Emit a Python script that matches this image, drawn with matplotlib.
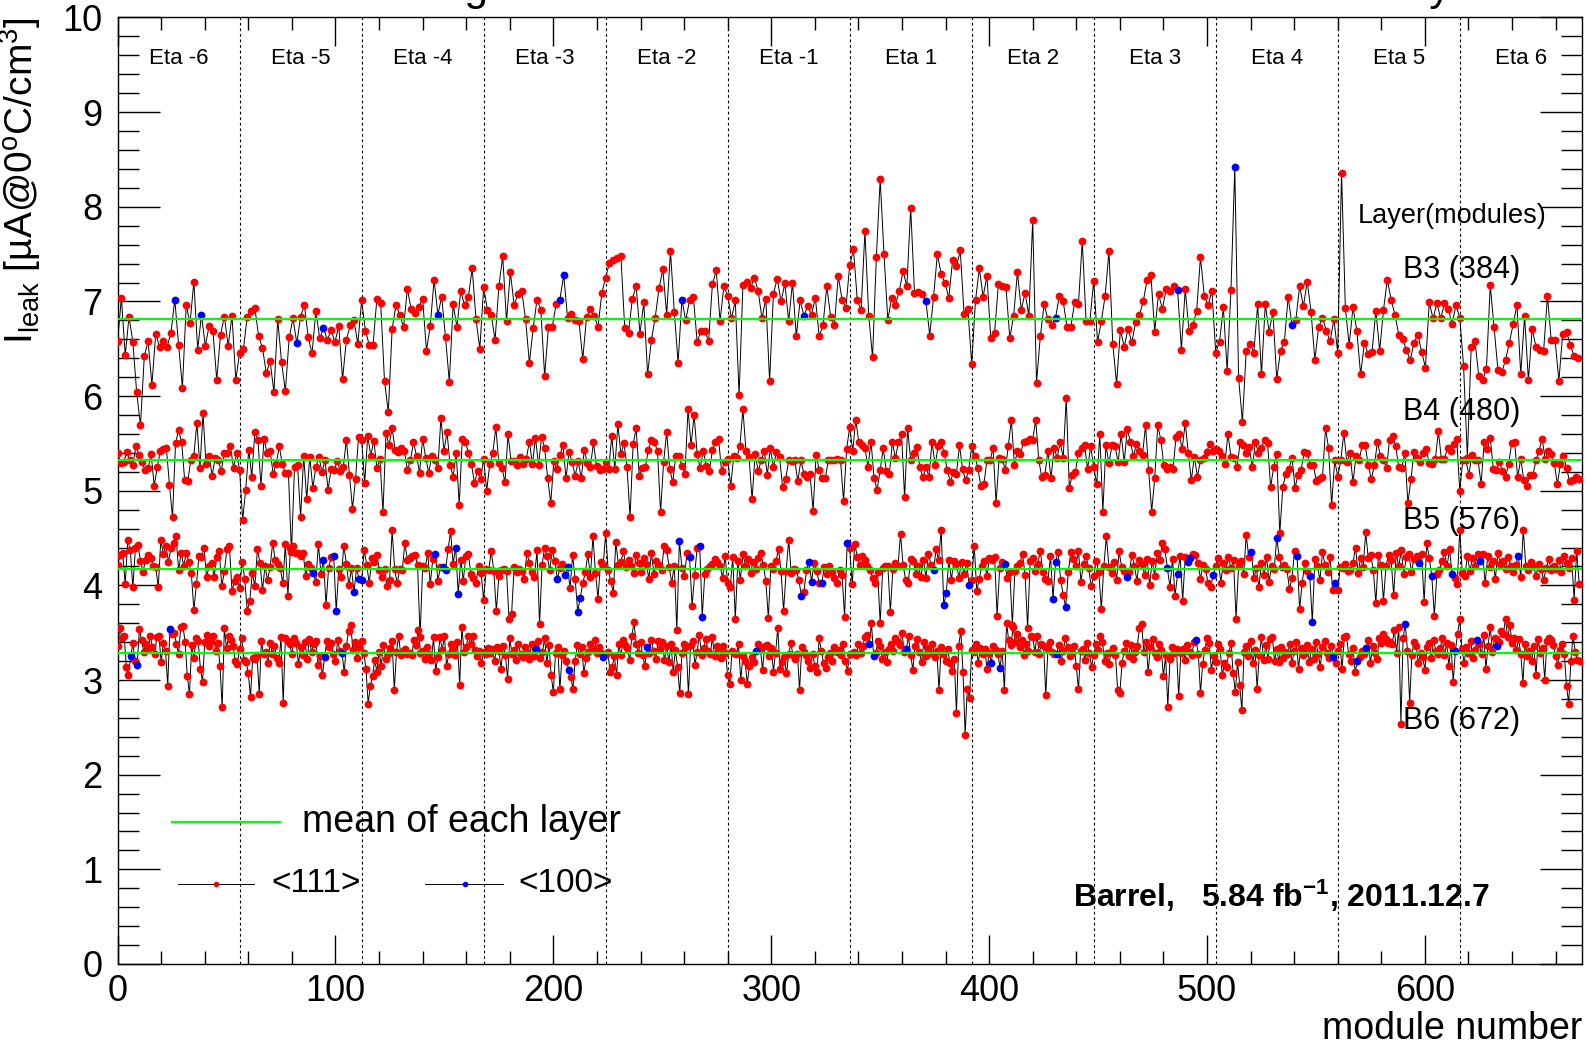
import numpy as np
import matplotlib.pyplot as plt
from matplotlib.ticker import MultipleLocator

plt.rcParams['font.family'] = ['Liberation Sans', 'DejaVu Sans']
plt.rcParams['mathtext.fontset'] = 'custom'
plt.rcParams['mathtext.rm'] = 'Liberation Sans'
plt.rcParams['mathtext.it'] = 'Liberation Sans:italic'
plt.rcParams['mathtext.bf'] = 'Liberation Sans:bold'

# leakage current per module [uA @ 0C / cm3], ordered by module number
b3 = [6.58, 7.04, 6.43, 6.84, 6.57, 6.04, 5.69, 6.42, 6.58, 6.12,
      6.66, 6.52, 6.58, 6.52, 6.67, 7.02, 6.54, 6.09, 6.96, 6.77,
      7.21, 6.49, 6.86, 6.53, 6.74, 6.69, 6.17, 6.65, 6.84, 6.53,
      6.85, 6.17, 6.46, 6.50, 6.84, 6.90, 6.93, 6.63, 6.51, 6.24,
      6.37, 6.04, 6.81, 6.36, 6.05, 6.62, 6.82, 6.56, 6.84, 6.96,
      6.62, 6.45, 6.90, 6.61, 6.72, 6.59, 6.70, 6.57, 6.74, 6.18,
      6.59, 6.75, 6.80, 6.55, 7.01, 6.69, 6.54, 6.54, 7.03, 6.98,
      6.16, 5.83, 6.71, 6.96, 6.86, 6.73, 7.13, 6.92, 6.88, 6.94,
      7.03, 6.48, 6.74, 7.23, 6.86, 7.05, 6.62, 6.15, 6.97, 6.73,
      7.11, 6.96, 7.05, 7.35, 6.81, 6.50, 7.15, 6.91, 6.86, 6.59,
      7.16, 7.48, 6.79, 7.31, 6.96, 7.08, 7.11, 6.81, 6.35, 6.72,
      7.02, 6.91, 6.21, 6.73, 6.73, 6.97, 7.02, 7.28, 6.83, 6.87,
      6.80, 6.79, 6.39, 6.84, 6.92, 6.85, 6.73, 7.09, 7.25, 7.41,
      7.44, 7.46, 7.48, 6.72, 6.67, 7.03, 7.16, 6.66, 6.99, 6.23,
      6.59, 6.83, 7.14, 7.34, 6.86, 7.53, 6.89, 6.35, 7.02, 6.80,
      7.01, 7.05, 6.57, 6.69, 6.69, 6.58, 7.18, 7.33, 6.79, 7.16,
      7.06, 6.82, 7.01, 6.01, 7.17, 7.21, 7.14, 7.25, 7.11, 6.82,
      7.03, 6.16, 7.08, 7.24, 7.00, 7.19, 6.79, 7.20, 6.63, 7.01,
      6.85, 6.95, 6.86, 7.04, 6.63, 6.75, 7.16, 6.84, 6.75, 7.27,
      7.02, 6.93, 7.38, 7.55, 7.01, 6.91, 7.74, 6.85, 6.41, 7.47,
      8.29, 7.50, 6.80, 7.04, 6.96, 7.11, 7.32, 7.16, 7.99, 7.09,
      7.10, 7.08, 7.00, 6.64, 7.05, 7.50, 7.29, 7.19, 7.04, 7.44,
      7.37, 7.54, 6.87, 6.92, 6.34, 7.01, 7.35, 7.05, 7.27, 6.61,
      6.67, 7.18, 7.16, 7.15, 6.61, 6.85, 7.31, 6.91, 7.09, 6.85,
      7.86, 6.14, 6.63, 6.97, 6.81, 6.75, 6.83, 7.06, 7.00, 6.73,
      6.73, 6.99, 6.97, 7.64, 6.79, 6.79, 7.22, 6.57, 6.79, 7.06,
      7.53, 6.55, 6.13, 6.70, 6.52, 6.71, 6.57, 6.78, 6.86, 7.00,
      7.23, 7.28, 6.68, 7.08, 6.92, 7.13, 7.11, 7.16, 7.12, 6.49,
      7.13, 6.69, 6.75, 6.90, 7.47, 7.06, 6.96, 7.11, 6.46, 6.57,
      6.94, 6.27, 7.12, 8.42, 6.19, 5.73, 6.48, 6.55, 6.46, 6.97,
      6.23, 6.97, 6.68, 6.89, 6.18, 6.48, 6.57, 7.05, 6.75, 6.80,
      7.16, 6.95, 7.21, 6.89, 6.38, 6.73, 6.83, 6.69, 6.58, 6.81,
      6.46, 8.36, 6.93, 6.54, 6.94, 6.69, 6.23, 6.56, 6.44, 6.47,
      6.90, 6.48, 6.91, 7.23, 7.02, 6.86, 6.65, 6.60, 6.49, 6.38,
      6.56, 6.65, 6.47, 6.30, 6.99, 6.82, 6.98, 6.82, 6.98, 6.92,
      6.76, 6.96, 6.83, 6.32, 5.35, 6.52, 6.58, 6.21, 6.17, 6.29,
      7.17, 6.73, 6.28, 6.25, 6.38, 6.56, 6.76, 6.96, 6.23, 6.85,
      6.17, 6.71, 6.52, 6.49, 6.48, 7.06, 6.59, 6.59, 6.16, 6.66,
      6.68, 6.54, 6.42, 6.40]

b4 = [5.40, 5.29, 5.30, 5.41, 5.32, 5.27, 5.47, 5.38, 5.30, 5.22,
      5.24, 5.39, 5.05, 5.25, 5.42, 5.44, 5.45, 5.06, 4.72, 5.50,
      5.64, 5.51, 5.11, 5.10, 5.32, 5.37, 5.72, 5.24, 5.82, 5.28,
      5.37, 5.16, 5.35, 5.32, 5.21, 5.40, 5.40, 5.47, 5.24, 5.40,
      5.22, 4.69, 5.01, 5.43, 5.15, 5.62, 5.54, 5.05, 5.55, 5.40,
      5.42, 5.18, 5.28, 5.47, 5.28, 5.19, 5.19, 4.35, 5.25, 5.27,
      4.72, 5.37, 4.91, 5.36, 5.03, 5.25, 5.36, 5.20, 5.32, 5.01,
      5.23, 5.22, 5.31, 5.21, 5.25, 5.54, 5.17, 4.81, 5.12, 5.57,
      5.54, 5.08, 5.58, 5.37, 5.53, 5.24, 5.34, 4.77, 5.61, 5.48,
      5.66, 5.43, 5.41, 5.45, 5.42, 5.22, 5.32, 5.51, 5.37, 5.19,
      5.55, 5.35, 5.19, 5.37, 5.32, 5.24, 5.77, 5.42, 5.62, 5.27,
      5.15, 5.40, 4.85, 5.55, 5.52, 5.40, 5.28, 5.08, 5.21, 5.12,
      5.34, 5.00, 5.28, 5.40, 5.67, 5.29, 5.24, 5.09, 5.60, 5.31,
      5.31, 5.27, 5.36, 5.28, 5.34, 5.52, 5.28, 5.56, 5.27, 5.57,
      5.45, 5.13, 4.87, 5.31, 5.23, 5.38, 5.48, 5.13, 5.41, 5.30,
      5.16, 5.31, 5.13, 5.43, 5.29, 5.25, 5.51, 5.26, 5.22, 5.23,
      5.30,
      5.23, 5.58, 5.23, 5.70, 5.39, 5.50, 5.25, 4.72, 5.49, 5.66,
      5.16, 5.24, 5.25, 5.43, 5.54, 5.51, 5.42, 4.77, 5.30, 5.62,
      5.23, 5.09, 5.37, 5.37, 5.26, 5.18, 5.86, 5.48, 5.80, 5.39,
      5.24, 5.42, 5.26, 5.21, 5.43, 5.52, 5.55, 5.21, 5.30, 5.33,
      5.05, 5.37, 5.35, 5.47, 5.86, 5.42, 5.36, 4.91, 5.39, 5.21,
      5.32, 5.42, 5.17, 5.45, 5.25, 5.41, 5.36, 5.04, 5.12, 5.32,
      5.31, 5.32, 5.10, 5.32, 5.18, 5.15, 5.18, 4.79, 5.38, 5.22,
      5.13, 5.13, 5.32, 5.32, 5.32, 5.33, 5.32, 4.89, 5.44, 5.67,
      5.42, 5.75, 5.51, 5.48, 5.45, 5.25, 5.52, 5.13, 5.01, 5.22,
      5.45, 5.21, 5.18, 5.51, 5.35, 5.51, 5.60, 4.93, 5.66, 5.32,
      5.40, 5.46, 5.25, 5.14, 5.25, 5.15, 5.52, 5.27, 5.47, 5.51,
      5.40, 5.22, 5.09, 5.20, 5.18, 5.48, 5.23, 5.11, 5.22, 5.47,
      5.37, 5.24, 5.05, 5.07, 5.32, 5.32, 5.45, 4.87, 5.35, 5.34,
      5.22, 5.47, 5.75, 5.27, 5.42, 5.39, 5.51, 5.53, 5.55, 5.54,
      5.75, 5.32, 5.14, 5.17, 5.42, 5.13, 5.45, 5.35, 5.51, 5.35,
      5.98, 5.03, 5.17, 5.20, 5.40, 5.45, 5.48, 5.23, 5.47, 5.25,
      5.07,
      5.60, 4.78, 5.48, 5.29, 5.48, 5.47, 5.30, 5.60, 5.30, 5.65,
      5.52, 5.37, 5.49, 5.42, 5.38, 5.69, 5.22, 4.78, 5.13, 5.69,
      5.54, 5.27, 5.23, 5.25, 5.23, 5.57, 5.60, 5.44, 5.72, 5.40,
      5.11, 5.36, 5.15, 5.32, 5.35, 5.41, 5.49, 5.42, 5.44, 5.42,
      5.37, 5.28, 5.60, 5.36, 5.35, 5.25, 5.51, 5.48, 5.40, 5.46,
      5.25, 5.51, 5.40, 5.45, 5.54, 5.50, 5.04, 5.25, 5.39, 4.55,
      5.04, 5.18, 5.23, 5.35, 5.03, 5.17, 5.22, 5.41, 5.40, 5.27,
      5.27, 5.10, 5.12, 5.14, 5.66, 5.45, 4.85, 5.32, 5.15, 5.32,
      5.61, 5.30, 5.40, 5.09, 5.37, 5.32, 5.48, 5.48, 5.27, 5.12,
      5.27, 5.51, 5.37, 5.32, 5.24, 5.54, 5.58, 5.47, 5.25, 5.24,
      5.40, 4.87, 5.12, 5.41, 5.35, 5.30, 5.40, 5.44, 5.29, 5.28,
      5.33, 5.63, 5.33, 5.34, 5.45, 5.42, 5.49, 5.55, 5.00, 5.32,
      5.32, 5.17, 5.38, 5.32, 5.32, 5.07, 5.51, 5.44, 5.56, 5.23,
      5.22, 5.30, 5.21, 5.14, 5.28, 5.50, 5.51, 5.14, 5.34, 5.11,
      5.05, 5.17, 5.17, 5.32, 5.42, 5.55, 5.34, 5.42, 5.39, 5.29,
      5.07, 5.28, 5.37, 5.24, 5.10, 5.11, 5.14, 5.12]

b5 = [4.22, 4.32, 4.34, 4.01, 4.48, 4.37, 3.98, 4.39, 4.43, 4.26, 4.14, 4.27,
      4.32, 4.29, 4.21, 4.19, 3.98, 4.48, 4.33, 4.42, 4.25, 4.39, 4.45, 4.52,
      4.16, 4.34, 4.21, 4.34, 4.25, 4.13, 3.74, 4.01, 4.31, 4.30, 4.39, 4.09,
      4.20, 4.24, 4.09, 4.30, 4.36, 3.99, 4.15, 4.38, 4.42, 3.94, 4.05, 4.09,
      3.97, 4.25, 4.07, 3.73, 3.84, 4.13, 3.99, 4.38, 4.24, 3.95, 4.20, 4.06,
      4.19, 4.45, 4.27, 4.23, 4.18, 4.02, 4.44, 3.89, 4.39, 4.42, 4.34, 4.34,
      4.31, 4.34, 4.10, 4.23, 4.18, 4.13, 4.04, 4.44, 4.12, 4.27, 3.79, 4.18,
      4.30, 4.31, 3.73, 4.17, 4.09, 4.42, 4.23, 4.00, 4.18, 3.93, 4.18, 4.07,
      4.06, 4.37, 4.22, 4.02, 4.29, 4.25, 4.32, 4.16, 4.09, 4.17, 3.99, 4.06,
      4.58, 4.17, 4.02, 4.17, 4.16, 4.45, 4.27, 4.29, 4.31, 4.32, 4.22, 3.45,
      4.20, 4.18, 4.34, 4.01, 4.28, 4.33, 4.05, 4.19, 4.19, 4.16, 4.38, 4.57,
      4.23, 4.40, 3.91, 4.27, 4.05, 4.31, 4.33, 4.12, 4.08, 4.03, 4.20, 4.13,
      3.85, 4.17, 4.16, 4.36, 4.15, 3.73, 4.10, 4.16, 4.17, 4.15, 3.64, 3.70,
      4.19, 4.14, 4.17, 4.15, 4.07, 4.34, 4.24, 4.14, 4.09, 4.37, 3.59, 4.22,
      4.40, 4.31, 4.16, 4.37, 4.26, 4.07, 4.18, 4.23, 4.11, 4.19, 3.97, 4.32,
      4.07, 3.72, 3.87, 4.02, 4.14, 4.33, 4.09, 4.52, 4.13, 3.86, 4.25, 4.20,
      4.55, 4.16, 4.05, 3.92, 4.46, 4.22, 4.25, 4.36, 4.19, 4.27, 4.20, 4.13,
      4.32, 4.24, 4.14, 4.29, 4.23, 4.07, 4.34, 4.12, 4.26, 4.22, 4.16, 4.42,
      4.37, 4.19, 4.03, 4.21, 3.53, 4.47, 4.18, 4.10, 4.34, 4.30, 3.78, 4.11,
      4.40, 4.42, 3.67, 4.12, 4.17, 4.20, 4.23, 4.28, 4.25, 4.21, 4.08, 4.31,
      4.03, 3.98, 4.30, 3.64, 4.26, 4.06, 4.33, 4.21, 4.28, 4.13, 4.25, 4.17,
      4.29, 4.34, 4.22, 4.05, 3.66, 4.20, 4.17, 4.26, 4.38, 4.15, 3.73, 4.15,
      4.48, 4.13, 4.17, 4.16, 4.06, 3.89, 3.93, 4.16, 4.25, 4.04, 4.24, 4.15,
      4.03, 4.02, 4.19, 4.12, 4.21, 4.14, 4.08, 4.03, 4.16, 4.11, 3.67, 4.45,
      4.39, 4.01, 4.44, 4.30, 4.22, 4.31, 4.27, 4.20, 4.16, 4.08, 4.03, 4.14,
      3.60, 4.18, 4.20, 4.21, 3.72, 4.17, 4.24, 4.20, 4.54, 4.22, 4.06, 4.02,
      4.28, 4.26, 4.12, 4.21, 4.09, 4.27, 4.08, 4.33, 4.22, 4.16, 4.38, 4.27,
      4.59, 3.79, 3.92, 4.27, 4.06, 4.26, 4.23, 4.08, 4.25, 4.12, 4.24, 4.00,
      4.06, 4.42, 3.94, 4.07, 4.21, 4.26, 4.10, 4.29, 4.27, 4.30, 3.68, 4.18,
      4.25, 4.23, 4.08, 4.14, 3.58, 4.15, 4.20, 4.24, 4.33, 4.11, 3.55, 4.26,
      4.29, 4.15, 4.23, 4.36, 4.14, 4.07, 4.05, 4.31, 3.86, 4.25, 4.35, 4.06,
      3.90, 3.77, 4.14, 4.35, 4.28, 4.21, 4.36, 4.04, 4.23, 4.31, 4.18, 3.99,
      4.10, 4.26, 4.14, 3.75, 4.21, 4.52, 4.19, 4.13, 4.25, 4.06, 4.36, 4.19,
      4.15, 4.09, 4.14, 4.32, 4.21, 4.05, 4.27, 4.23, 4.11, 4.28, 4.00, 4.26,
      4.10, 4.34, 4.27, 4.45, 4.38, 4.18, 3.98, 4.28, 3.89, 4.12, 4.31, 3.84,
      4.30, 4.25, 4.29, 4.33, 4.32, 4.24, 4.07, 4.22, 4.17, 4.02, 3.98, 4.11,
      4.20, 4.29, 4.03, 4.24, 4.16, 4.30, 4.18, 4.27, 3.65, 4.21, 4.26, 4.12,
      4.53, 4.30, 4.35, 4.08, 4.18, 3.98, 4.24, 4.11, 4.30, 4.04, 4.20, 4.17,
      4.50, 4.30, 4.19, 4.22, 4.17, 3.96, 4.08, 4.36, 4.31, 3.75, 4.02, 4.24,
      4.15, 4.10, 3.61, 4.28, 4.20, 4.06, 4.35, 4.22, 4.14, 4.30, 3.95, 4.02,
      3.95, 4.19, 4.18, 4.23, 4.15, 4.16, 4.24, 4.40, 4.13, 4.29, 4.19, 4.56,
      4.29, 4.32, 4.16, 3.81, 4.32, 4.22, 3.84, 4.21, 4.32, 4.27, 3.90, 4.34,
      4.20, 4.37, 4.12, 4.30, 4.33, 4.14, 4.28, 4.31, 4.24, 4.33, 3.82, 4.45,
      4.29, 4.10, 3.68, 4.12, 4.16, 4.26, 4.35, 4.20, 4.38, 4.12, 4.08, 4.01,
      4.59, 4.13, 4.10, 4.31, 4.15, 4.29, 4.21, 4.33, 4.26, 4.33, 4.02, 4.31,
      4.19, 4.26, 4.07, 4.34, 4.23, 4.26, 4.17, 4.30, 4.21, 4.14, 4.22, 4.31,
      4.09, 4.59, 4.20, 4.16, 4.25, 4.21, 4.10, 4.23, 4.17, 4.06, 4.18, 4.28,
      4.16, 4.21, 4.17, 4.27, 4.14, 4.31, 4.24, 4.18, 4.29, 3.85, 4.36, 4.01]

b6 = [3.36, 3.55, 3.44, 3.47, 3.14, 3.05, 3.25, 3.39, 3.20, 3.16, 3.54, 3.42, 3.30, 3.38,
      3.33, 3.46, 3.35, 3.27, 3.45, 3.46, 3.19, 3.39, 3.31, 2.94, 3.54, 3.49, 3.50, 3.38,
      3.28, 3.56, 3.57, 3.40, 3.04, 2.85, 3.37, 3.23, 3.44, 3.41, 3.12, 2.98, 3.40, 3.48,
      3.36, 3.41, 3.47, 3.31, 3.39, 3.15, 2.71, 3.55, 3.34, 3.46, 3.42, 3.36, 3.20, 3.17,
      3.33, 3.44, 3.21, 3.19, 3.07, 2.82, 3.23, 3.22, 3.26, 2.85, 3.41, 3.27, 3.30, 3.18,
      3.39, 3.28, 3.36, 3.23, 3.18, 3.45, 2.76, 3.44, 3.41, 3.38, 3.27, 3.44, 3.39, 3.17,
      3.35, 3.26, 3.40, 3.22, 3.43, 3.30, 3.38, 3.41, 3.16, 3.25, 3.05, 3.24, 3.41, 3.35,
      3.39, 3.27, 3.20, 3.42, 3.31, 3.29, 3.08, 3.36, 3.52, 3.58, 3.32, 3.40, 3.23, 3.35,
      3.41, 3.29, 3.12, 2.75, 2.94, 3.04, 3.21, 3.09, 3.30, 3.15, 3.37, 3.22, 3.28, 3.34,
      3.41, 2.89, 3.30, 3.46, 3.26, 3.31, 3.33, 3.28, 3.29, 3.26, 3.42, 3.37, 3.53, 3.29,
      3.31, 3.22, 3.35, 3.28, 3.21, 3.45, 3.10, 3.24, 3.45, 3.32, 3.46, 3.15, 3.27, 3.38,
      3.33, 3.26, 3.40, 2.95, 3.56, 3.30, 3.35, 3.47, 3.38, 3.46, 3.32, 3.25, 3.31, 3.18,
      3.30, 3.27, 3.34, 3.29, 3.33, 3.20, 3.35, 3.31, 3.12, 3.36, 3.26, 3.01, 3.44, 3.28,
      3.32, 3.21, 3.38, 3.27, 3.24, 3.35, 3.30, 3.22, 3.38, 3.25, 3.33, 3.41, 3.23, 3.30,
      3.44, 3.18, 3.37, 3.05, 2.87, 3.29, 3.35, 2.90, 3.26, 3.31, 3.20, 3.11, 3.03, 2.91,
      3.20, 3.37, 3.28, 3.35, 3.07, 3.23, 3.30, 3.38, 3.33, 3.42, 3.29, 3.35, 3.29, 3.24,
      3.27, 3.30, 3.09, 3.14, 3.25, 3.05, 3.38, 3.26, 3.42, 3.37, 3.34, 3.21, 3.46, 3.61,
      3.38, 3.29, 3.40, 3.26, 3.15, 3.35, 3.29, 3.42, 3.31, 3.22, 3.41, 3.33, 3.40, 3.21,
      3.36, 3.19, 3.38, 3.09, 3.32, 3.14, 2.86, 3.29, 3.38, 3.35, 2.85, 3.37, 3.41, 3.16,
      3.30, 3.48, 3.26, 3.34, 3.43, 3.31, 3.27, 3.45, 3.25, 3.36, 3.32, 3.23, 3.36, 3.29,
      3.05, 2.96, 3.31, 3.29, 3.27, 3.38, 3.00, 3.25, 3.20, 2.96, 3.15, 3.24, 3.19, 3.31,
      3.38, 3.33, 3.11, 3.36, 3.37, 3.25, 3.34, 3.09, 3.29, 3.55, 3.12, 3.19, 3.24, 3.07,
      3.27, 3.39, 3.26, 3.22, 3.28, 2.89, 3.35, 3.30, 3.26, 3.20, 3.13, 3.28, 3.15, 3.09,
      3.44, 3.31, 3.18, 3.13, 3.24, 3.29, 3.20, 3.35, 3.30, 3.32, 3.26, 3.38, 3.20, 3.10,
      3.28, 3.27, 3.30, 3.26, 3.38, 3.29, 3.36, 3.45, 3.48, 3.38, 3.60, 3.25, 3.29, 3.41,
      3.36, 3.22, 3.30, 3.19, 3.33, 3.38, 3.31, 3.44, 3.40, 3.37, 3.50, 3.30, 3.33, 3.46,
      3.26, 3.11, 3.36, 3.43, 3.30, 3.19, 3.40, 3.25, 3.34, 3.29, 3.38, 3.24, 3.31, 2.89,
      3.35, 3.28, 3.20, 3.33, 3.18, 3.10, 3.22, 2.65, 3.36, 3.52, 3.09, 2.42, 2.91, 2.81,
      3.32, 3.30, 3.38, 3.18, 3.34, 3.27, 3.33, 3.12, 3.29, 3.18, 3.36, 3.32, 3.28, 3.13,
      3.31, 2.89, 3.60, 3.42, 3.37, 3.56, 3.40, 3.49, 3.35, 3.42, 3.26, 3.38, 3.31, 3.46,
      3.45, 3.30, 3.47, 3.28, 3.38, 3.36, 2.84, 3.33, 3.40, 3.30, 3.27, 3.28, 3.37, 3.20,
      3.31, 3.44, 3.35, 3.25, 3.29, 3.36, 3.15, 2.90, 3.31, 3.33, 3.21, 3.39, 3.29, 3.14,
      3.26, 3.38, 3.32, 3.46, 3.40, 3.20, 3.29, 3.17, 3.30, 3.34, 3.26, 2.89, 2.86, 3.18,
      3.31, 3.39, 3.25, 3.37, 3.22, 3.30, 3.36, 3.55, 3.59, 3.30, 3.40, 3.08, 3.35, 3.43,
      3.29, 3.24, 3.38, 3.32, 3.04, 3.26, 2.72, 3.22, 3.35, 3.29, 3.33, 2.83, 3.29, 3.33,
      3.21, 3.37, 3.30, 3.26, 3.40, 3.42, 3.28, 2.86, 3.17, 3.32, 3.44, 3.39, 3.11, 3.25,
      3.19, 3.38, 3.33, 3.05, 3.18, 3.14, 3.29, 3.39, 3.07, 2.87, 3.19, 2.95, 2.68, 3.30,
      3.36, 3.25, 3.41, 3.18, 3.32, 2.91, 3.26, 3.45, 3.21, 3.37, 3.22, 3.43, 3.45, 3.20,
      3.33, 3.19, 3.35, 3.23, 3.30, 3.27, 3.38, 3.18, 3.31, 3.40, 3.12, 3.34, 3.26, 3.29,
      3.37, 3.19, 3.33, 3.22, 3.40, 3.28, 3.14, 3.35, 3.41, 3.29, 3.23, 3.36, 3.24, 3.18,
      3.31, 3.38, 3.12, 3.45, 3.46, 3.28, 3.20, 3.34, 3.08, 3.20, 3.24, 3.31, 3.27, 3.34,
      3.42, 3.18, 3.36, 3.29, 3.22, 3.44, 3.39, 3.49, 3.43, 3.39, 3.40, 3.38, 3.53, 3.29,
      3.56, 2.54, 3.44, 3.59, 3.31, 2.76, 3.26, 3.40, 3.36, 3.18, 3.29, 3.24, 3.11, 3.35,
      3.39, 3.23, 3.42, 3.31, 3.27, 3.34, 3.44, 3.26, 3.39, 3.15, 3.37, 2.98, 3.31, 3.49,
      3.64, 3.33, 3.18, 3.35, 3.29, 3.41, 3.23, 3.32, 3.42, 3.38, 3.27, 3.48, 3.12, 3.36,
      3.56, 3.30, 3.44, 3.36, 3.40, 3.52, 3.49, 3.64, 3.45, 3.58, 3.39, 3.44, 3.32, 3.43,
      3.28, 2.97, 3.38, 3.25, 3.31, 3.20, 3.36, 3.05, 3.43, 3.29, 3.34, 3.00, 3.41, 3.44,
      3.42, 3.37, 3.25, 3.16, 3.32, 3.38, 3.27, 2.94, 2.75, 3.20, 3.47, 3.30, 3.21, 3.20]

# indices of the <100> sensors in each layer
b3_100 = [15, 22, 47, 54, 84, 116, 117, 148, 180, 212, 246, 278, 293, 308]
b4_100 = []
b5_100 = [77, 81, 85, 86, 93, 95, 96, 125, 128, 129, 133, 134, 173, 176, 177,
          181, 182, 221, 225, 229, 230, 269, 272, 273, 277, 287, 321, 325, 326,
          335, 349, 368, 369, 373, 397, 413, 417, 421, 422, 431, 446, 456, 464,
          469, 470, 479, 512, 517, 525, 536, 551]
b6_100 = [6, 9, 24, 95, 103, 192, 207, 223, 243, 293, 345, 347, 362, 401, 405,
          431, 495, 558, 569, 573, 591, 614, 624, 633]

layer_names = ['B3 (384)', 'B4 (480)', 'B5 (576)', 'B6 (672)']
layer_label_y = [7.33, 5.83, 4.68, 2.57]
eta_labels = ['Eta -6', 'Eta -5', 'Eta -4', 'Eta -3', 'Eta -2', 'Eta -1',
              'Eta 1', 'Eta 2', 'Eta 3', 'Eta 4', 'Eta 5', 'Eta 6']
n_modules = 672
ring_width = n_modules / len(eta_labels)

fig = plt.figure(figsize=(15.87, 10.47), dpi=100)
ax = fig.add_axes([0.0741, 0.0793, 0.9226, 0.904])

for vals, blue in [(b3, b3_100), (b4, b4_100), (b5, b5_100), (b6, b6_100)]:
    v = np.array(vals)
    x = np.arange(len(v)) * n_modules / len(v)
    is_blue = np.zeros(len(v), dtype=bool)
    is_blue[blue] = True
    ax.plot(x, v, color='black', lw=0.7, zorder=2)
    ax.plot(x[~is_blue], v[~is_blue], 'o', color='#ff0000', ms=5.6, mew=0, zorder=3)
    ax.plot(x[is_blue], v[is_blue], 'o', color='#0000ff', ms=5.6, mew=0, zorder=3)
    ax.axhline(v.mean(), color='#00ff00', lw=1.6, zorder=4)

# eta ring boundaries and labels
for k in range(1, len(eta_labels)):
    ax.axvline(k * ring_width, color='black', lw=0.8, ls=(0, (2.5, 2.5)), zorder=1)
for k, lab in enumerate(eta_labels):
    ax.text((k + 0.5) * ring_width, 9.57, lab, ha='center', va='center', fontsize=16)

ax.text(569, 7.90, 'Layer(modules)', ha='left', va='center', fontsize=19.5)
for name, y in zip(layer_names, layer_label_y):
    ax.text(590, y, name, ha='left', va='center', fontsize=22)

ax.set_xlim(0, n_modules)
ax.set_ylim(0, 10)
ax.xaxis.set_major_locator(MultipleLocator(100))
ax.xaxis.set_minor_locator(MultipleLocator(20))
ax.yaxis.set_major_locator(MultipleLocator(1))
ax.yaxis.set_minor_locator(MultipleLocator(0.2))
ax.tick_params(which='both', direction='in', top=True, right=True, width=1, labelsize=26)
ax.tick_params(axis='x', which='major', length=21, pad=7)
ax.tick_params(axis='x', which='minor', length=9.5)
ax.tick_params(axis='y', which='major', length=30, pad=11)
ax.tick_params(axis='y', which='minor', length=15)
for s in ax.spines.values():
    s.set_linewidth(1)

ax.set_xlabel('module number', loc='right', fontsize=27, labelpad=2)
ax.set_ylabel(r'I$_{\mathrm{leak}}$ [µA@0$^{\mathrm{o}}$C/cm$^{\mathrm{3}}$]',
              loc='top', fontsize=28, labelpad=14)

# legend drawn by hand, ROOT style
tr = ax.transAxes
ax.plot([0.037, 0.111], [0.150, 0.150], color='#00ff00', lw=1.6, transform=tr, clip_on=False)
ax.text(0.126, 0.150, 'mean of each layer', transform=tr, va='center', fontsize=27)
ax.plot([0.041, 0.093], [0.0845, 0.0845], color='black', lw=0.7, transform=tr)
ax.plot([0.067], [0.0845], 'o', color='#ff0000', ms=4, mew=0, transform=tr)
ax.text(0.105, 0.0845, '<111>', transform=tr, va='center', fontsize=24)
ax.plot([0.210, 0.263], [0.0845, 0.0845], color='black', lw=0.7, transform=tr)
ax.plot([0.237], [0.0845], 'o', color='#0000ff', ms=4, mew=0, transform=tr)
ax.text(0.274, 0.0845, '<100>', transform=tr, va='center', fontsize=24)

ax.text(0.6525, 0.0718, r'Barrel,   5.84 fb$^{\mathbf{-1}}$, 2011.12.7', transform=tr,
        va='center', ha='left', fontsize=23, fontweight='bold')

fig.text(0.220, 1.0, 'Leakage current normalized to 0°C and volume of each layer',
         ha='left', va='baseline', fontsize=30.5)

fig.savefig('out.png', dpi=100)
